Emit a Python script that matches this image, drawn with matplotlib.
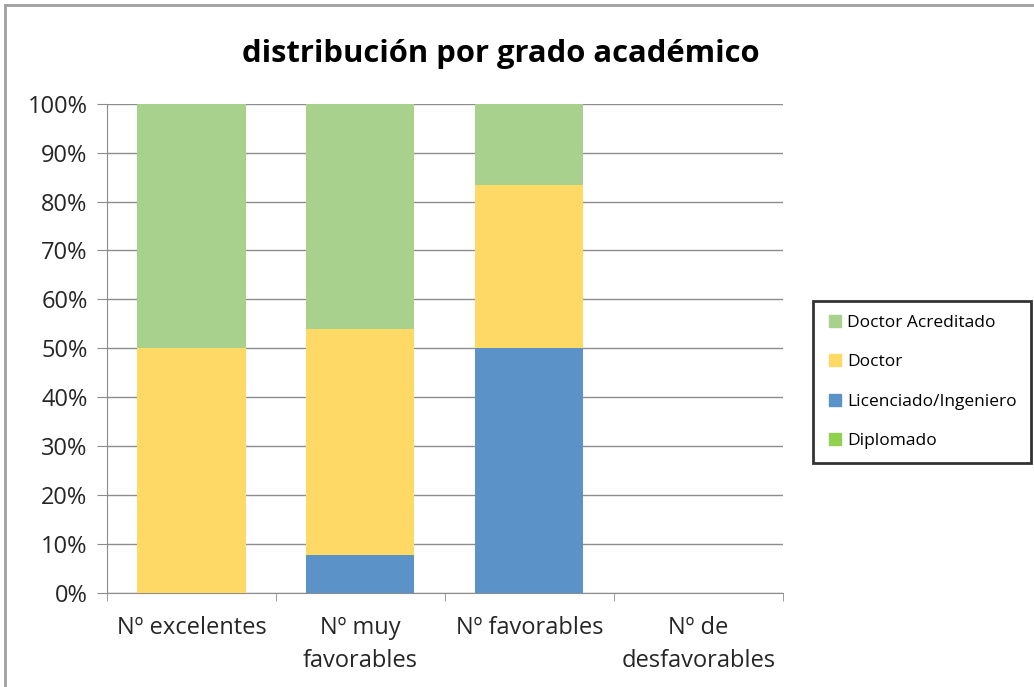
import matplotlib.pyplot as plt
import numpy as np
from matplotlib.lines import Line2D

# datos (porcentaje sobre el total de cada categoria)
categorias = ['Nº excelentes', 'Nº muy\nfavorables', 'Nº favorables', 'Nº de\ndesfavorables']
diplomado = [0, 0, 0, 0]
licenciado = [0, 7.7, 50, 0]
doctor = [50, 46.2, 33.3, 0]
acreditado = [50, 46.1, 16.7, 0]

series = ['Diplomado', 'Licenciado/Ingeniero', 'Doctor', 'Doctor Acreditado']
colores = ['#92D050', '#5B93C9', '#FFD966', '#A9D18E']

plt.rcParams['font.family'] = ['Open Sans', 'DejaVu Sans']

fig = plt.figure(figsize=(10.34, 6.87), dpi=100)
ax = fig.add_axes([0.1035, 0.137, 0.6535, 0.712])

x = np.arange(len(categorias))
base = np.zeros(len(categorias))
for nombre, vals, col in zip(series, [diplomado, licenciado, doctor, acreditado], colores):
    ax.bar(x, vals, 0.64, bottom=base, color=col, label=nombre, zorder=3)
    base += np.array(vals)

ax.set_xlim(-0.5, 3.5)
ax.set_ylim(0, 100)
ax.set_yticks(np.arange(0, 101, 10))
ax.set_yticklabels([f'{v}%' for v in range(0, 101, 10)], fontsize=17, color='#262626')
ax.yaxis.grid(True, color='#8C8C8C', linewidth=1, zorder=0)
ax.tick_params(axis='y', length=7, color='#8C8C8C', pad=7)

ax.set_xticks(x)
ax.set_xticklabels(categorias, fontsize=17, color='#262626', linespacing=1.45)
ax.set_xticks(np.arange(-0.5, 4, 1), minor=True)
ax.tick_params(axis='x', which='major', length=0, pad=17)
ax.tick_params(axis='x', which='minor', length=6, color='#8C8C8C')

for s in ['top', 'right']:
    ax.spines[s].set_visible(False)
for s in ['left', 'bottom']:
    ax.spines[s].set_color('#8C8C8C')

fig.text(0.484, 0.922, 'distribución por grado académico', fontsize=22.3,
         fontweight='bold', ha='center', va='center')

handles = [Line2D([], [], marker='s', linestyle='', markersize=8, color=c) for c in colores]
leg = fig.legend(handles[::-1], series[::-1], loc='center left',
                 bbox_to_anchor=(0.786, 0.444), fontsize=12.5, frameon=True,
                 fancybox=False, labelspacing=1.35, handletextpad=0.2,
                 handlelength=1.0, borderpad=0.8, borderaxespad=0)
leg.get_frame().set_edgecolor('black')
leg.get_frame().set_linewidth(2)

# borde del grafico
fig.add_artist(Line2D([0.005, 0.005], [0, 0.993], color='#A0A0A0', linewidth=2, transform=fig.transFigure))
fig.add_artist(Line2D([0.005, 1], [0.993, 0.993], color='#A0A0A0', linewidth=2, transform=fig.transFigure))

fig.savefig('out.png', dpi=100)
